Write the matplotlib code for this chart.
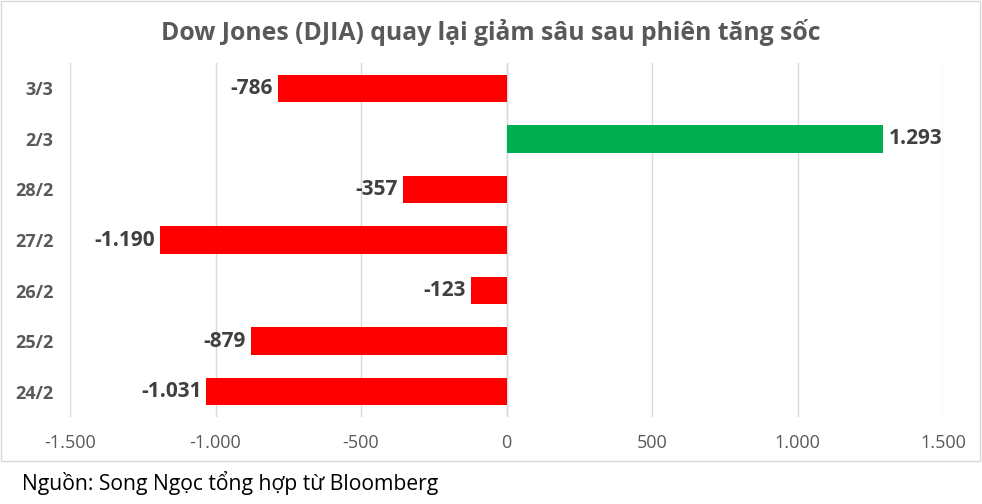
import matplotlib
matplotlib.use("Agg")
import matplotlib.pyplot as plt
from matplotlib.patches import Rectangle
from matplotlib.ticker import FuncFormatter
from matplotlib import font_manager

categories = ["3/3", "2/3", "28/2", "27/2", "26/2", "25/2", "24/2"]
values = [-786, 1293, -357, -1190, -123, -879, -1031]
xticks = [-1500, -1000, -500, 0, 500, 1000, 1500]
title = "Dow Jones (DJIA) quay lại giảm sâu sau phiên tăng sốc"
source = "Nguồn: Song Ngọc tổng hợp từ Bloomberg"

names = {f.name for f in font_manager.fontManager.ttflist}
fam = [n for n in ["Liberation Sans Narrow", "Open Sans", "DejaVu Sans"] if n in names]
plt.rcParams['font.family'] = fam

def fmt(v):
    s = f"{abs(int(v)):,}".replace(",", ".")
    return ("-" if v < 0 else "") + s

fig = plt.figure(figsize=(9.82, 5.04), dpi=100)
ax = fig.add_axes([70/982, 1 - 417/504, (943-70)/982, (417-63)/504])

ypos = list(range(len(categories)))[::-1]
colors = ["#00b050" if v > 0 else "#ff0000" for v in values]
bars = ax.barh(ypos, values, height=0.54, color=colors, zorder=3)

for y, v in zip(ypos, values):
    if v < 0:
        ax.annotate(fmt(v), (v, y), xytext=(-5, 0), textcoords="offset pixels",
                    ha="right", va="center", fontsize=15, fontweight="bold", color="#404040")
    else:
        ax.annotate(fmt(v), (v, y), xytext=(6, 0), textcoords="offset pixels",
                    ha="left", va="center", fontsize=15, fontweight="bold", color="#404040")

ax.set_xlim(-1500, 1500)
ax.set_ylim(-0.5, len(categories) - 0.5)
ax.set_xticks(xticks)
ax.xaxis.set_major_formatter(FuncFormatter(lambda v, p: fmt(v)))
ax.set_yticks(ypos)
ax.set_yticklabels(categories)
ax.tick_params(axis="y", length=0, pad=12, labelsize=13, labelcolor="#595959")
for t in ax.get_yticklabels():
    t.set_fontweight("bold")
ax.tick_params(axis="x", length=0, pad=12, labelsize=13, labelcolor="#595959")
ax.grid(axis="x", color="#d9d9d9", linewidth=1, zorder=0)
for s in ax.spines.values():
    s.set_visible(False)
ax.axvline(0, color="#d9d9d9", linewidth=1, zorder=1)

fig.text(491/982, 1 - 32/504, title, ha="center", va="center",
         fontsize=17.8, fontweight="bold", color="#595959")
fig.text(22/982, 1 - 483/504, source, ha="left", va="center",
         fontsize=15.2, color="#000000")

fig.add_artist(Rectangle((1/982, 1 - 461/504), 979/982, 460/504,
                         transform=fig.transFigure, fill=False,
                         edgecolor="#d9d9d9", linewidth=1))

fig.savefig("out.png", dpi=100, facecolor="white")
